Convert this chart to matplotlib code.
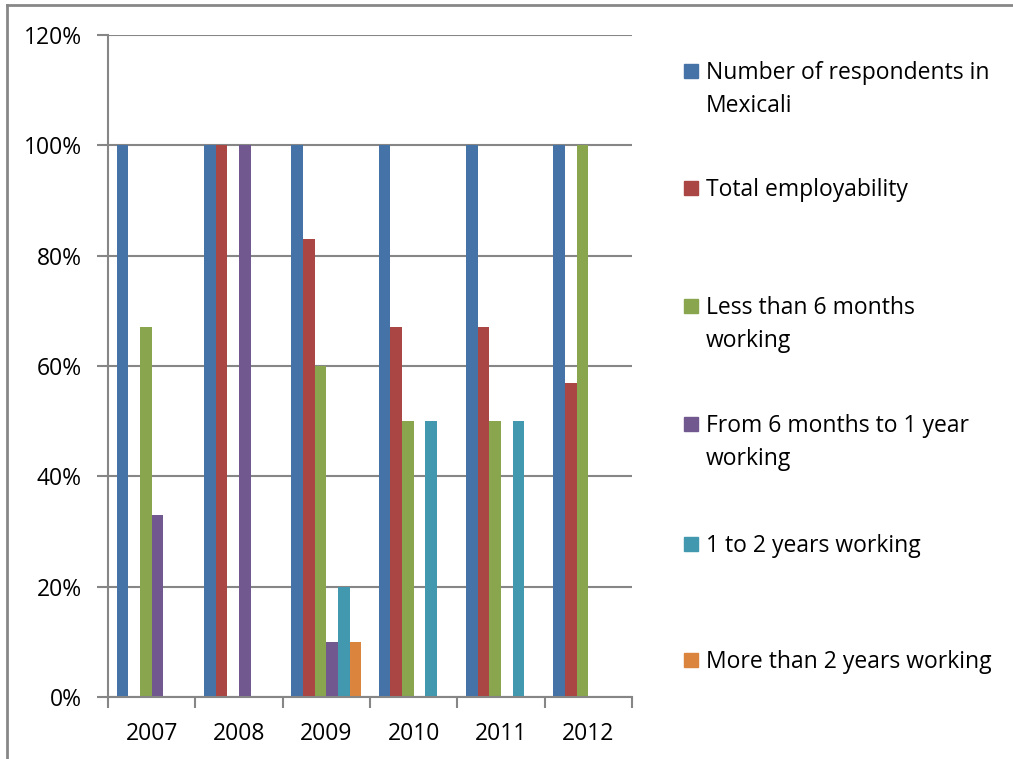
import numpy as np
import matplotlib.pyplot as plt
from matplotlib.lines import Line2D
from matplotlib.patches import Rectangle

plt.rcParams['font.family'] = ['Open Sans', 'DejaVu Sans']

years = ['2007', '2008', '2009', '2010', '2011', '2012']
series = ['Number of respondents in\nMexicali',
          'Total employability',
          'Less than 6 months\nworking',
          'From 6 months to 1 year\nworking',
          '1 to 2 years working',
          'More than 2 years working']

respondents = [100, 100, 100, 100, 100, 100]
employability = [0, 100, 83, 67, 67, 57]
less_6m = [67, 0, 60, 50, 50, 100]
six_m_1y = [33, 100, 10, 0, 0, 0]
one_2y = [0, 0, 20, 50, 50, 0]
more_2y = [0, 0, 10, 0, 0, 0]
values = [respondents, employability, less_6m, six_m_1y, one_2y, more_2y]

colors = ['#4572a7', '#aa4643', '#89a54e', '#71588f', '#4198af', '#db843d']
grid_c = '#868686'
fs = 16.5

W, H = 1013, 759
fig = plt.figure(figsize=(W / 100, H / 100), dpi=100)
ax = fig.add_axes([108 / W, 1 - 697 / H, (632 - 108) / W, (697 - 35) / H])

n = len(series)
gap = 1.5
bw = 1 / (n + gap)
x = np.arange(len(years))
for i, (vals, c) in enumerate(zip(values, colors)):
    offs = -0.5 + bw * gap / 2 + bw * (i + 0.5)
    ax.bar(x + offs, np.array(vals) / 100, width=bw, color=c, zorder=3)

ax.set_xlim(-0.5, len(years) - 0.5)
ax.set_ylim(0, 1.2)
ax.set_yticks(np.arange(0, 1.21, 0.2))
ax.set_yticklabels([f'{int(round(v * 100))}%' for v in np.arange(0, 1.21, 0.2)])
ax.set_xticks(np.arange(-0.5, len(years), 1))
ax.set_xticklabels([])
ax.set_xticks(x, minor=True)
ax.set_xticklabels(years, minor=True)
ax.tick_params(axis='x', which='major', length=8, width=1.5, color=grid_c, direction='out')
ax.tick_params(axis='x', which='minor', length=0, pad=18, labelsize=fs)
ax.tick_params(axis='y', length=8, width=1.5, color=grid_c, pad=11, labelsize=fs)
ax.grid(axis='y', color=grid_c, linewidth=1.5, zorder=0)
for s in ['top', 'right']:
    ax.spines[s].set_visible(False)
for s in ['left', 'bottom']:
    ax.spines[s].set_color(grid_c)
    ax.spines[s].set_linewidth(1.5)
ax.spines['bottom'].set_zorder(4)

# legend drawn by hand, one entry per series
entry_y = [70, 187, 305, 423, 543, 659]
for lab, c, ly in zip(series, colors, entry_y):
    fig.patches.append(Rectangle((684 / W, 1 - (ly + 8) / H), 14 / W, 14 / H,
                                 transform=fig.transFigure, color=c))
    fig.text(706 / W, 1 - (ly - 9) / H, lab, fontsize=fs, va='top', ha='left',
             linespacing=1.5)

# outer frame
fig.add_artist(Line2D([7 / W, 7 / W], [0, 1 - 5 / H], color='#878787', lw=2))
fig.add_artist(Line2D([7 / W, 1], [1 - 5 / H, 1 - 5 / H], color='#878787', lw=2))

fig.savefig('out.png', dpi=100)
